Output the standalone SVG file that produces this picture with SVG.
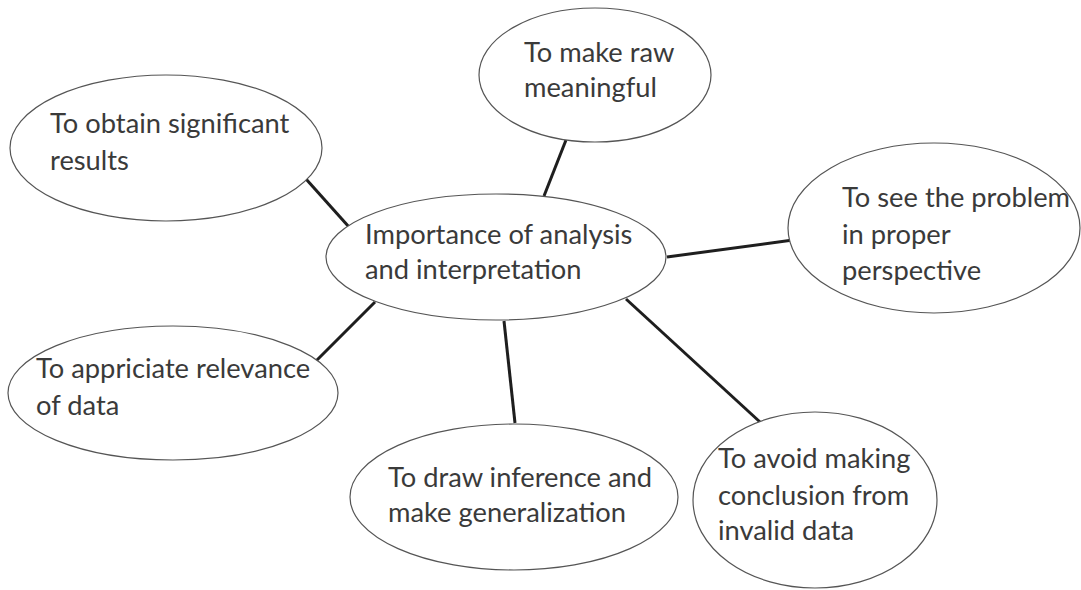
<svg xmlns="http://www.w3.org/2000/svg" width="1081" height="590" viewBox="0 0 1081 590">
<style>
.node ellipse{fill:#fff;stroke:#555;stroke-width:1.2}
.node text{font-family:Lato,"Open Sans","Liberation Sans",sans-serif;font-size:27.3px;fill:#3a3a3a}
#connectors line{stroke:#1e1e1e;stroke-width:3;stroke-linecap:butt}
</style>
<rect width="1081" height="590" fill="#fff"/>
<g id="connectors">
<line x1="306" y1="179" x2="349" y2="227"/>
<line x1="566" y1="140" x2="544" y2="196"/>
<line x1="667" y1="257" x2="793" y2="240"/>
<line x1="375" y1="302" x2="316" y2="361"/>
<line x1="504" y1="321" x2="515" y2="423"/>
<line x1="626" y1="299" x2="760" y2="422"/>
</g>
<g id="n-obtain" class="node"><ellipse cx="166" cy="148" rx="156" ry="73"/>
<text x="50" y="133">To obtain significant</text><text x="50" y="170">results</text></g>
<g id="n-raw" class="node"><ellipse cx="595" cy="75" rx="116" ry="67"/>
<text x="524" y="62">To make raw</text><text x="524" y="97">meaningful</text></g>
<g id="n-center" class="node"><ellipse cx="496" cy="257" rx="170" ry="63"/>
<text x="365" y="244">Importance of analysis</text><text x="365" y="279">and interpretation</text></g>
<g id="n-see" class="node"><ellipse cx="934" cy="228" rx="146" ry="85"/>
<text x="842" y="207">To see the problem</text><text x="842" y="244">in proper</text><text x="842" y="280">perspective</text></g>
<g id="n-appriciate" class="node"><ellipse cx="173" cy="393" rx="165" ry="67"/>
<text x="36" y="378">To appriciate relevance</text><text x="36" y="415">of data</text></g>
<g id="n-draw" class="node"><ellipse cx="514" cy="497" rx="164" ry="73"/>
<text x="388" y="487">To draw inference and</text><text x="388" y="522">make generalization</text></g>
<g id="n-avoid" class="node"><ellipse cx="815" cy="500" rx="122" ry="88"/>
<text x="718" y="468">To avoid making</text><text x="718" y="505">conclusion from</text><text x="718" y="540">invalid data</text></g>
</svg>
